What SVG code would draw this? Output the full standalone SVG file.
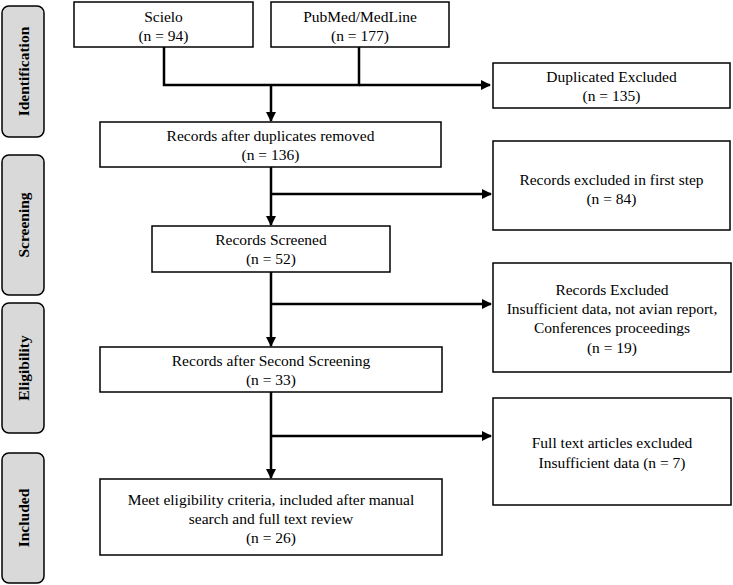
<svg xmlns="http://www.w3.org/2000/svg" width="733" height="585" viewBox="0 0 733 585">
<style>
.box{fill:#fff;stroke:#000;stroke-width:1.5}
.side{fill:#d9d9d9;stroke:#000;stroke-width:1.5}
.t{font-family:"Liberation Serif","Times New Roman",serif;font-size:15.5px;fill:#000;text-anchor:middle}
.s{font-family:"Liberation Serif","Times New Roman",serif;font-size:15.5px;font-weight:bold;fill:#000;text-anchor:middle}
.c{fill:none;stroke:#000;stroke-width:2.5}
</style>
<defs>
<marker id="ah" viewBox="0 0 10 10" refX="9" refY="5" markerWidth="4" markerHeight="4" orient="auto" markerUnits="strokeWidth">
<path d="M0,0 L10,5 L0,10 z" fill="#000"/>
</marker>
</defs>
<rect width="733" height="585" fill="#fff"/>
<g id="side-identification"><rect class="side" x="2" y="6" width="42" height="131" rx="7"/><text class="s" transform="translate(29,71.5) rotate(-90)">Identification</text></g>
<g id="side-screening"><rect class="side" x="2" y="155" width="42" height="140" rx="7"/><text class="s" transform="translate(29,225) rotate(-90)">Screening</text></g>
<g id="side-eligibility"><rect class="side" x="2" y="303" width="42" height="130" rx="7"/><text class="s" transform="translate(29,368) rotate(-90)">Eligibility</text></g>
<g id="side-included"><rect class="side" x="2" y="453" width="42" height="130" rx="7"/><text class="s" transform="translate(29,518) rotate(-90)">Included</text></g>
<g id="connectors">
<path class="c" d="M164,47 V85 H359 V47"/>
<path class="c" d="M359,85 H490" marker-end="url(#ah)"/>
<path class="c" d="M271,85 V121" marker-end="url(#ah)"/>
<path class="c" d="M271,167 V225" marker-end="url(#ah)"/>
<path class="c" d="M271,194 H491" marker-end="url(#ah)"/>
<path class="c" d="M271,272 V346" marker-end="url(#ah)"/>
<path class="c" d="M271,304 H491" marker-end="url(#ah)"/>
<path class="c" d="M271,392 V478" marker-end="url(#ah)"/>
<path class="c" d="M271,436 H491" marker-end="url(#ah)"/>
</g>
<g id="scielo"><rect class="box" x="74" y="2" width="179" height="45"/><text class="t" x="163.5" y="22">Scielo</text><text class="t" x="163.5" y="41">(n = 94)</text></g>
<g id="pubmed"><rect class="box" x="271" y="2" width="178" height="45"/><text class="t" x="360" y="22">PubMed/MedLine</text><text class="t" x="360" y="41">(n = 177)</text></g>
<g id="duplicated"><rect class="box" x="493" y="63" width="237" height="45"/><text class="t" x="611.5" y="82">Duplicated Excluded</text><text class="t" x="611.5" y="101">(n = 135)</text></g>
<g id="after-duplicates"><rect class="box" x="100" y="122" width="341" height="45"/><text class="t" x="270.5" y="141">Records after duplicates removed</text><text class="t" x="270.5" y="160">(n = 136)</text></g>
<g id="excluded-first"><rect class="box" x="493" y="141" width="237" height="89"/><text class="t" x="611.5" y="185">Records excluded in first step</text><text class="t" x="611.5" y="204">(n = 84)</text></g>
<g id="screened"><rect class="box" x="152" y="226" width="238" height="46"/><text class="t" x="271" y="245">Records Screened</text><text class="t" x="271" y="264">(n = 52)</text></g>
<g id="excluded-19"><rect class="box" x="493" y="263" width="238" height="109"/><text class="t" x="612" y="295">Records Excluded</text><text class="t" x="612" y="314">Insufficient data, not avian report,</text><text class="t" x="612" y="333">Conferences proceedings</text><text class="t" x="612" y="353">(n = 19)</text></g>
<g id="second-screening"><rect class="box" x="100" y="347" width="342" height="45"/><text class="t" x="271" y="366">Records after Second Screening</text><text class="t" x="271" y="385">(n = 33)</text></g>
<g id="fulltext-excluded"><rect class="box" x="493" y="398" width="238" height="107"/><text class="t" x="612" y="448">Full text articles excluded</text><text class="t" x="612" y="468">Insufficient data (n = 7)</text></g>
<g id="included"><rect class="box" x="100" y="479" width="342" height="76"/><text class="t" x="271" y="505">Meet eligibility criteria, included after manual</text><text class="t" x="271" y="524">search and full text review</text><text class="t" x="271" y="543">(n = 26)</text></g>
</svg>
